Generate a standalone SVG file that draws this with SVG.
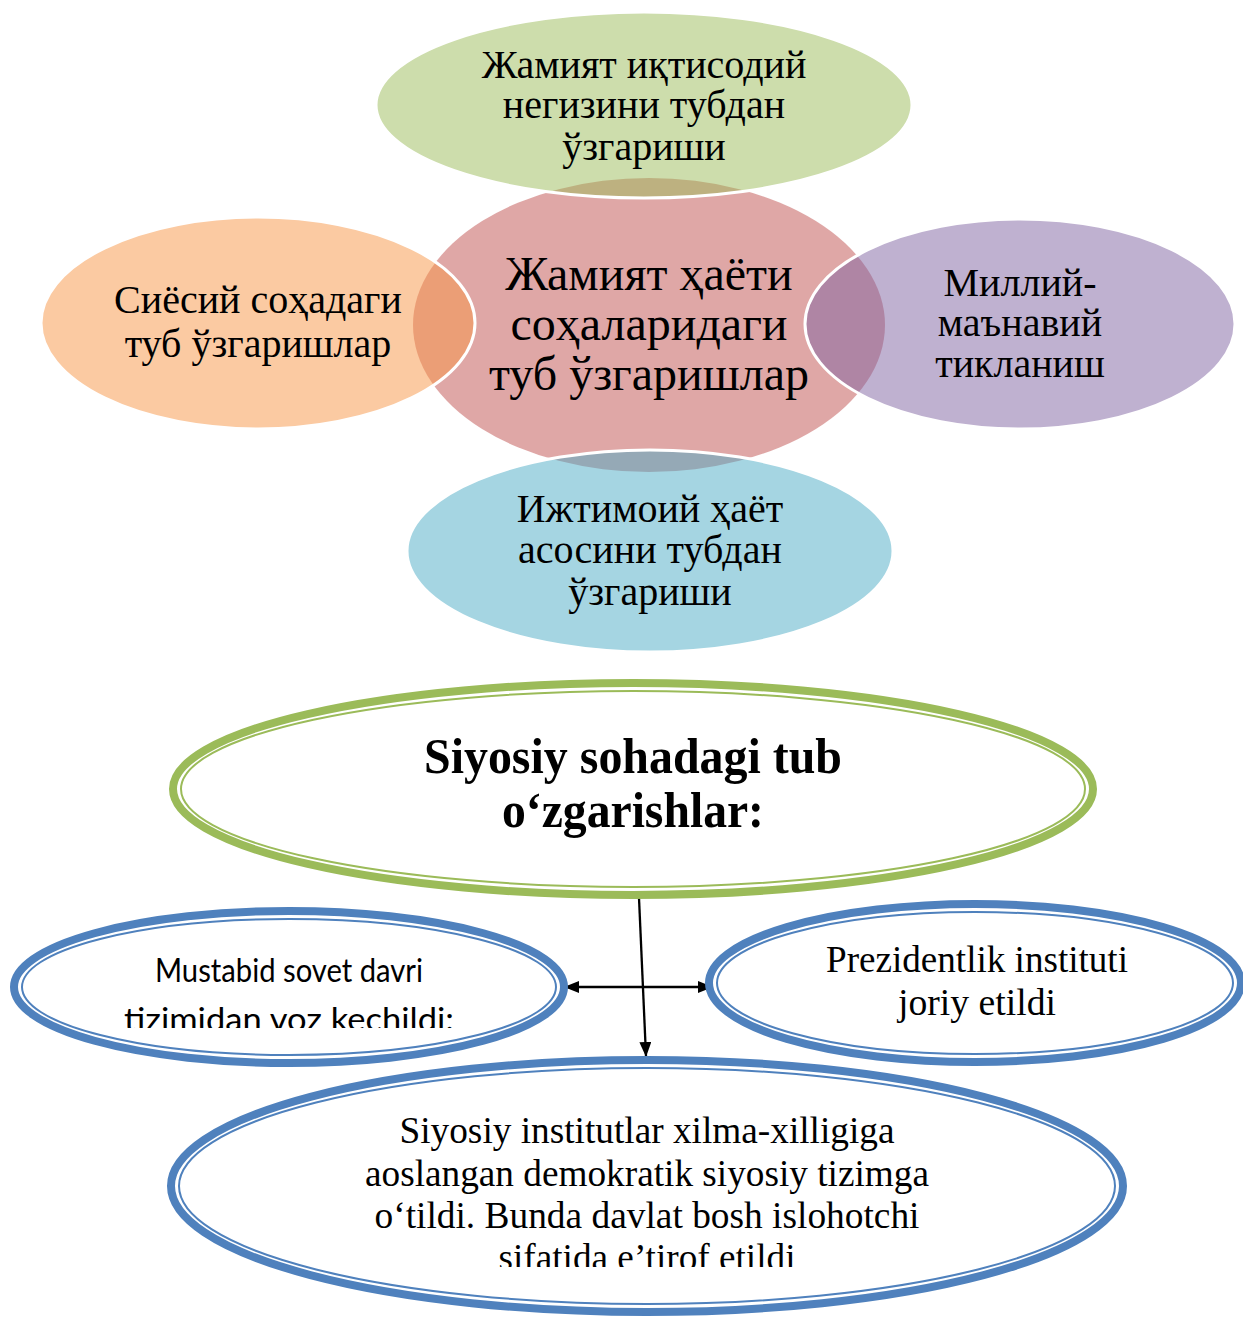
<svg xmlns="http://www.w3.org/2000/svg" width="1243" height="1318" viewBox="0 0 1243 1318">
<style>
.v{fill-opacity:0.5;stroke:#fff;stroke-width:3}
.t{font-family:"Liberation Serif","Times New Roman",serif;fill:#000;text-anchor:middle}
.s{font-family:"Lato","Liberation Sans",sans-serif;fill:#000;text-anchor:middle}
.dg{fill:#fff;stroke:#9BBB59}
.db{fill:#fff;stroke:#4F81BD}
.c{stroke:#000;stroke-width:2.3;fill:none}
</style>
<defs>
<marker id="ah" viewBox="0 0 15 12" refX="14" refY="6" markerWidth="15" markerHeight="12" markerUnits="userSpaceOnUse" orient="auto-start-reverse">
<path d="M0,0 L15,6 L0,12 z" fill="#000"/>
</marker>
<clipPath id="cl1"><rect x="0" y="900" width="600" height="128"/></clipPath>
<clipPath id="cl2"><rect x="160" y="1060" width="980" height="207"/></clipPath>
</defs>
<g id="center">
<ellipse cx="649" cy="325" rx="236" ry="147" fill="#C0504D" fill-opacity="0.5"/>
<text class="t" font-size="48"><tspan x="649" y="290">Жамият ҳаёти</tspan><tspan x="649" y="340">соҳаларидаги</tspan><tspan x="649" y="390">туб ўзгаришлар</tspan></text>
</g>
<g id="top">
<ellipse class="v" cx="644" cy="105" rx="268" ry="93" fill="#9BBB59"/>
<text class="t" font-size="40"><tspan x="644" y="78">Жамият иқтисодий</tspan><tspan x="644" y="118">негизини тубдан</tspan><tspan x="644" y="160">ўзгариши</tspan></text>
</g>
<g id="left">
<ellipse class="v" cx="258" cy="323" rx="217" ry="106" fill="#F79646"/>
<text class="t" font-size="40"><tspan x="258" y="313">Сиёсий соҳадаги</tspan><tspan x="258" y="357">туб ўзгаришлар</tspan></text>
</g>
<g id="right">
<ellipse class="v" cx="1020" cy="324" rx="215" ry="105" fill="#8064A2"/>
<text class="t" font-size="40"><tspan x="1020" y="296">Миллий-</tspan><tspan x="1020" y="336">маънавий</tspan><tspan x="1020" y="377">тикланиш</tspan></text>
</g>
<g id="bottom">
<ellipse class="v" cx="650" cy="551" rx="243" ry="101" fill="#4BACC6"/>
<text class="t" font-size="40"><tspan x="650" y="522">Ижтимоий ҳаёт</tspan><tspan x="650" y="563">асосини тубдан</tspan><tspan x="650" y="605">ўзгариши</tspan></text>
</g>
<g id="connectors">
<line class="c" x1="639" y1="898" x2="646" y2="1056" marker-end="url(#ah)"/>
<line class="c" x1="565" y1="987" x2="712" y2="987" marker-start="url(#ah)" marker-end="url(#ah)"/>
</g>
<g id="siyosiy">
<ellipse class="dg" cx="633" cy="789" rx="460" ry="106" stroke-width="8"/>
<ellipse class="dg" cx="633" cy="789" rx="452" ry="98" stroke-width="2"/>
<text class="t" font-size="50" font-weight="bold"><tspan x="633" y="773" textLength="418" lengthAdjust="spacingAndGlyphs">Siyosiy sohadagi tub</tspan><tspan x="633" y="827" textLength="262" lengthAdjust="spacingAndGlyphs">o‘zgarishlar:</tspan></text>
</g>
<g id="mustabid">
<ellipse class="db" cx="289" cy="987" rx="275" ry="76" stroke-width="8"/>
<ellipse class="db" cx="289" cy="987" rx="267" ry="68" stroke-width="2"/>
<text class="s" font-size="32" clip-path="url(#cl1)"><tspan x="289" y="982" textLength="268" lengthAdjust="spacingAndGlyphs">Mustabid sovet davri</tspan><tspan x="289" y="1031" textLength="330" lengthAdjust="spacingAndGlyphs">tizimidan voz kechildi:</tspan></text>
</g>
<g id="prezident">
<ellipse class="db" cx="975" cy="983" rx="266" ry="79" stroke-width="8"/>
<ellipse class="db" cx="975" cy="983" rx="258" ry="71" stroke-width="2"/>
<text class="t" font-size="38"><tspan x="977" y="972" textLength="302" lengthAdjust="spacingAndGlyphs">Prezidentlik instituti</tspan><tspan x="977" y="1015" textLength="158" lengthAdjust="spacingAndGlyphs">joriy etildi</tspan></text>
</g>
<g id="institut">
<ellipse class="db" cx="647" cy="1186" rx="476" ry="126" stroke-width="8"/>
<ellipse class="db" cx="647" cy="1186" rx="468" ry="118" stroke-width="2"/>
<text class="t" font-size="38" clip-path="url(#cl2)"><tspan x="647" y="1143" textLength="495" lengthAdjust="spacingAndGlyphs">Siyosiy institutlar xilma-xilligiga</tspan><tspan x="647" y="1186" textLength="564" lengthAdjust="spacingAndGlyphs">aoslangan demokratik siyosiy tizimga</tspan><tspan x="647" y="1228" textLength="545" lengthAdjust="spacingAndGlyphs">o‘tildi. Bunda davlat bosh islohotchi</tspan><tspan x="647" y="1270" textLength="297" lengthAdjust="spacingAndGlyphs">sifatida e’tirof etildi</tspan></text>
</g>
</svg>
